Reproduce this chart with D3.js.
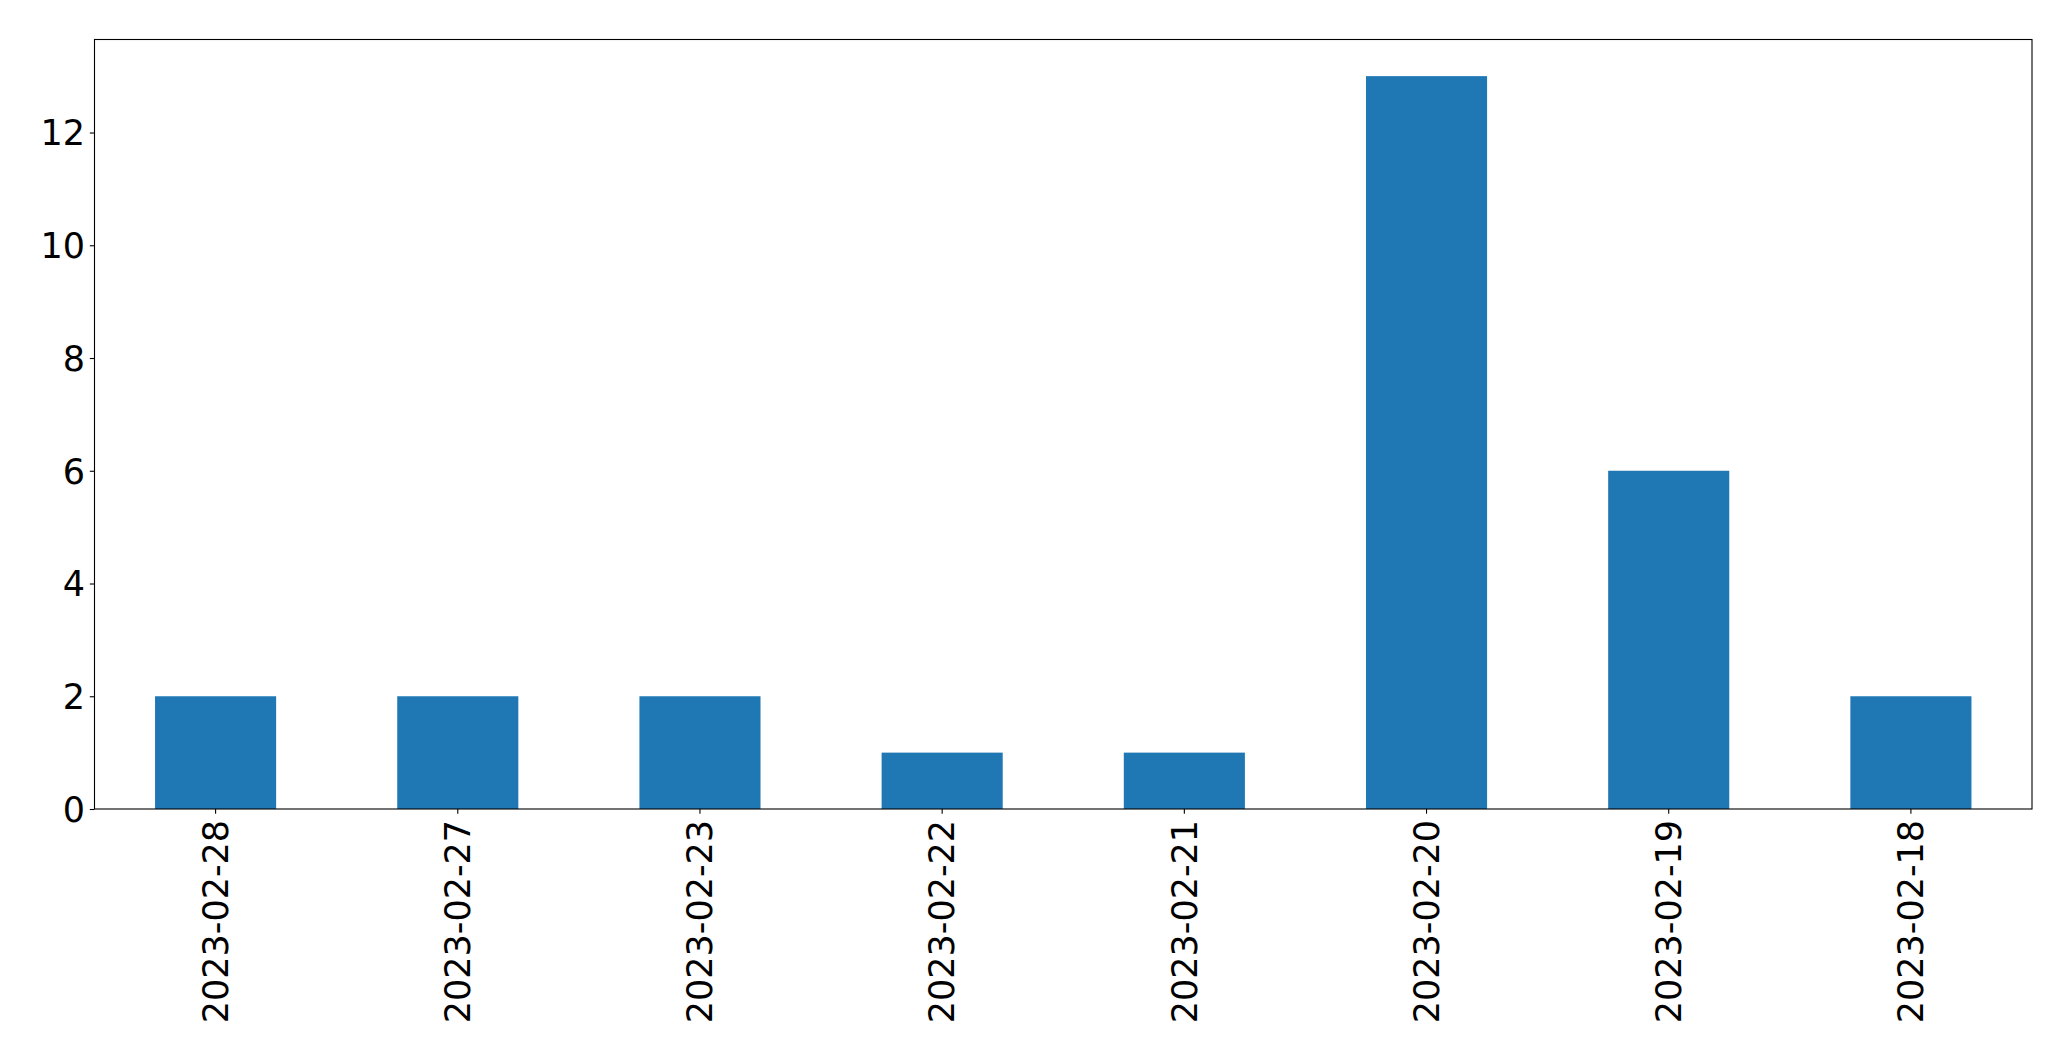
<!DOCTYPE html>
<html>
<head>
<meta charset="utf-8">
<script src="https://cdn.jsdelivr.net/npm/d3@7"></script>
<style>
html,body{margin:0;padding:0;background:#fff;}
svg{display:block;}
</style>
</head>
<body>
<script>
const categories = ["2023-02-28","2023-02-27","2023-02-23","2023-02-22","2023-02-21","2023-02-20","2023-02-19","2023-02-18"];
const values = [2, 2, 2, 1, 1, 13, 6, 2];
const yTicks = [0, 2, 4, 6, 8, 10, 12];

const W = 2071, H = 1061;
const m = {left: 94.5, right: W - 2032, top: 39.5, bottom: H - 809};
const iw = W - m.left - m.right, ih = H - m.top - m.bottom;
const fontSize = 35;
const font = "'DejaVu Sans', sans-serif";

const svg = d3.select("body").append("svg").attr("width", W).attr("height", H);
const g = svg.append("g").attr("transform", `translate(${m.left},${m.top})`);

const x = d3.scaleBand().domain(categories).range([0, iw]).paddingInner(0.5).paddingOuter(0.25);
const y = d3.scaleLinear().domain([0, d3.max(values) * 1.05]).range([ih, 0]);

g.selectAll("rect.bar").data(values).join("rect")
  .attr("class", "bar")
  .attr("x", (d, i) => x(categories[i]))
  .attr("width", x.bandwidth())
  .attr("y", d => y(d))
  .attr("height", d => y(0) - y(d))
  .attr("fill", "#1f77b4");

const tickLen = 4.7, pad = 4.7;

const yAxis = g.append("g").call(d3.axisLeft(y).tickValues(yTicks).tickSize(tickLen).tickPadding(pad).tickFormat(d3.format("d")));
const xAxis = g.append("g").attr("transform", `translate(0,${ih})`)
  .call(d3.axisBottom(x).tickSize(tickLen).tickPadding(pad));

[xAxis, yAxis].forEach(a => {
  a.select(".domain").remove();
  a.selectAll(".tick line").attr("stroke", "#000").attr("stroke-width", 1.1);
  a.selectAll("text").attr("font-family", font).attr("font-size", fontSize).attr("fill", "#000");
});

xAxis.selectAll(".tick text")
  .attr("transform", `rotate(-90)`)
  .attr("text-anchor", "end")
  .attr("dy", "0.35em")
  .attr("x", -(tickLen + pad + 1.5))
  .attr("y", 0);

yAxis.selectAll(".tick text").attr("dy", "0.35em");

g.append("rect")
  .attr("x", 0).attr("y", 0).attr("width", iw).attr("height", ih)
  .attr("fill", "none").attr("stroke", "#000").attr("stroke-width", 1.1);
</script>
</body>
</html>
